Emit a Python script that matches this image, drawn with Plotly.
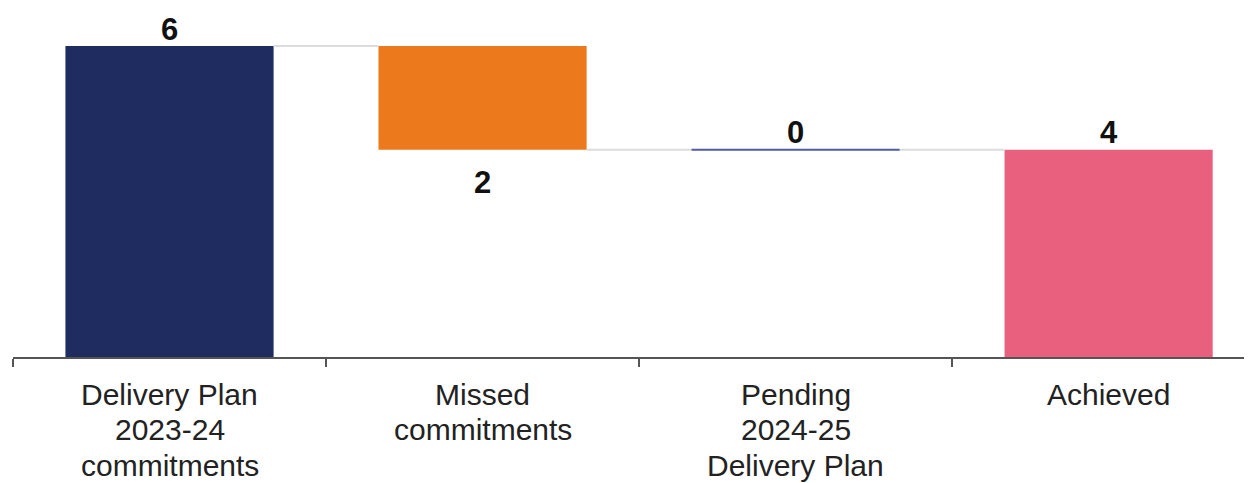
import plotly.graph_objects as go

categories = [["Delivery Plan", "2023-24", "commitments"], ["Missed", "commitments"],
              ["Pending", "2024-25", "Delivery Plan"], ["Achieved"]]
values = [6, -2, 0, 4]
kinds = ["absolute", "relative", "relative", "total"]
colors = ["#1e2c5f", "#ec7a1c", "#4f5ba3", "#e9607e"]

# running totals -> bases
bases = []
running = 0
for v, k in zip(values, kinds):
    if k == "absolute":
        bases.append(0); running = v
    elif k == "total":
        bases.append(0)
    else:
        bases.append(running); running += v
heights = [running if k == "total" else v for v, k in zip(values, kinds)]
ends = [b + h for b, h in zip(bases, heights)]

xs = list(range(len(categories)))
W = 0.665

fig = go.Figure()
fig.add_trace(go.Bar(
    x=xs, y=heights, base=bases, width=W,
    marker=dict(color=colors, line=dict(width=0)),
    showlegend=False, hoverinfo="skip",
))

# connectors between bars
for i in range(len(xs) - 1):
    level = ends[i]
    fig.add_trace(go.Scatter(
        x=[xs[i] + W / 2, xs[i + 1] - W / 2], y=[level, level], mode="lines",
        line=dict(color="#dcdcdc", width=2), showlegend=False, hoverinfo="skip",
    ))

# zero-height bars drawn as a thin line
for i, h in enumerate(heights):
    if h == 0:
        fig.add_trace(go.Scatter(
            x=[xs[i] - W / 2, xs[i] + W / 2], y=[bases[i], bases[i]], mode="lines",
            line=dict(color=colors[i], width=2), showlegend=False, hoverinfo="skip",
        ))

annotations = []
# value labels
for i, h in enumerate(heights):
    shift = 17 if h >= 0 else -33
    annotations.append(dict(x=xs[i], y=ends[i], text=str(abs(h)), showarrow=False,
                            xref="x", yref="y", yanchor="middle", yshift=shift,
                            font=dict(family="Liberation Sans", size=31, color="#111111",
                                      weight="bold")))
# category labels, line by line
for i, lines in enumerate(categories):
    for j, line in enumerate(lines):
        annotations.append(dict(x=xs[i], y=0, text=line, showarrow=False,
                                xref="x", yref="y", yanchor="middle", yshift=-(37 + 35.5 * j),
                                font=dict(family="Liberation Sans", size=30, color="#222222")))

fig.update_layout(
    width=1252, height=483,
    margin=dict(l=5, r=8, t=7, b=134),
    paper_bgcolor="white", plot_bgcolor="white",
    annotations=annotations,
    xaxis=dict(
        range=[-0.5, 3.458], tickvals=xs, showticklabels=False, ticks="",
        showgrid=False, zeroline=False, showline=True, linecolor="#555555", linewidth=1.5,
        minor=dict(tickvals=[-0.5, 0.5, 1.5, 2.5], ticks="outside", ticklen=8,
                   tickcolor="#555555", tickwidth=1.5, showgrid=False),
    ),
    yaxis=dict(range=[0, 6.6], visible=False, showgrid=False, zeroline=False),
)

fig.write_html("out.html")
